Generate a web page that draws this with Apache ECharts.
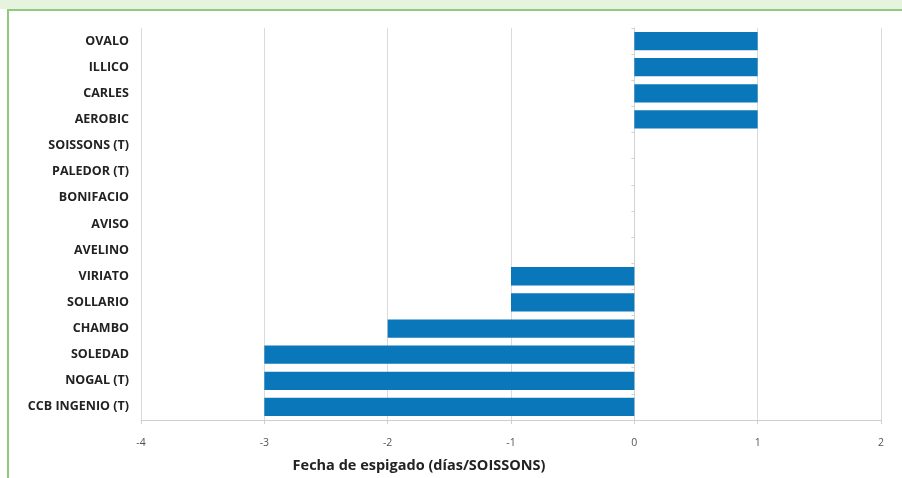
<!DOCTYPE html>
<html>
<head>
<meta charset="utf-8">
<script src="https://cdn.jsdelivr.net/npm/echarts@6/dist/echarts.min.js"></script>
<style>
html,body{margin:0;padding:0;background:#fff;}
#wrap{position:relative;width:902px;height:478px;overflow:hidden;}
#band{position:absolute;left:0;top:0;width:902px;height:9px;background:#e6f3de;}
#topline{position:absolute;left:8px;top:9px;width:894px;height:2px;background:#8fca7e;}
#leftline{position:absolute;left:7px;top:9px;width:2px;height:469px;background:#8fca7e;}
#chart{position:absolute;left:0;top:0;width:902px;height:478px;}
</style>
</head>
<body>
<div id="wrap">
<div id="band"></div>
<div id="topline"></div>
<div id="leftline"></div>
<div id="chart"></div>
</div>
<script>
var categories = ['OVALO','ILLICO','CARLES','AEROBIC','SOISSONS (T)','PALEDOR (T)','BONIFACIO','AVISO','AVELINO','VIRIATO','SOLLARIO','CHAMBO','SOLEDAD','NOGAL (T)','CCB INGENIO (T)'];
var values = [1,1,1,1,0,0,0,0,0,-1,-1,-2,-3,-3,-3];
var xTicks = [-4,-3,-2,-1,0,1,2];
var xName = 'Fecha de espigado (días/SOISSONS)';

var chart = echarts.init(document.getElementById('chart'));
chart.setOption({
  animation:false,
  grid:{left:141,right:21,top:28,bottom:58,containLabel:false},
  xAxis:{
    type:'value', min:xTicks[0], max:xTicks[xTicks.length-1], interval:1,
    name:xName, nameLocation:'middle', nameGap:38,
    nameTextStyle:{fontFamily:'Open Sans',fontWeight:'bold',fontSize:14.5,color:'#222',padding:[0,0,0,-184]},
    axisLine:{show:true,onZero:false,lineStyle:{color:'#cfcfcf',width:1}},
    axisTick:{show:true,length:4,lineStyle:{color:'#cfcfcf'}},
    axisLabel:{margin:18,fontFamily:'Open Sans',fontSize:10.5,color:'#555'},
    splitLine:{show:true,lineStyle:{color:'#dadada',width:1}}
  },
  yAxis:[{
    type:'category', data:categories, inverse:true,
    axisLine:{show:false,onZero:false},
    axisTick:{show:false},
    axisLabel:{margin:12,fontFamily:'Open Sans',fontWeight:'bold',fontSize:12.5,color:'#222'},
    splitLine:{show:false}
  },{
    type:'category', data:categories, inverse:true, position:'left',
    axisLine:{show:true,onZero:true,lineStyle:{color:'#d2d2d2'}},
    axisTick:{show:true,length:3,lineStyle:{color:'#d2d2d2'}},
    axisLabel:{show:false},
    splitLine:{show:false}
  }],
  series:[{
    type:'bar', data:values, yAxisIndex:0,
    barCategoryGap:'30%',
    itemStyle:{color:'#0a77bb'}
  }]
});
</script>
</body>
</html>
